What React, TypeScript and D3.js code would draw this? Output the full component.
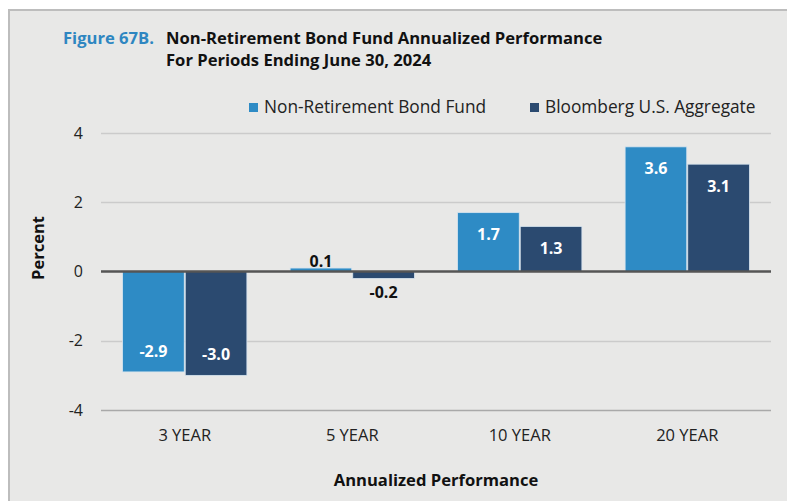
import React, { useRef, useEffect } from "react"
import * as d3 from "d3"

const periods = ["3 YEAR", "5 YEAR", "10 YEAR", "20 YEAR"]
const seriesNames = ["Non-Retirement Bond Fund", "Bloomberg U.S. Aggregate"]
const fundValues = [-2.9, 0.1, 1.7, 3.6]
const indexValues = [-3.0, -0.2, 1.3, 3.1]
const yTicks = [-4, -2, 0, 2, 4]
const colors = ["#2e8bc5", "#2b4a70"]

const W = 787
const H = 501
const font = "'Open Sans', 'Noto Sans', sans-serif"

export default function App() {
  const ref = useRef<SVGSVGElement>(null)

  useEffect(() => {
    const svg = d3.select(ref.current)
    svg.selectAll("*").remove()

    svg.attr("width", W).attr("height", H).style("font-family", font)

    // panel background + border
    svg.append("rect").attr("width", W).attr("height", H).attr("fill", "#ffffff")
    svg
      .append("rect")
      .attr("x", 9)
      .attr("y", 10)
      .attr("width", W + 10)
      .attr("height", H + 10)
      .attr("fill", "#e8e8e7")
      .attr("stroke", "#bdbdbd")
      .attr("stroke-width", 2)

    const left = 101, right = 771, top = 133, bottom = 410

    const x = d3.scaleBand().domain(periods).range([left, right]).paddingInner(0).paddingOuter(0)
    const x1 = d3.scaleBand().domain(seriesNames).range([0, x.bandwidth()]).paddingOuter(0.345).paddingInner(0.016)
    const y = d3.scaleLinear().domain([-4, 4]).range([bottom, top])

    // gridlines
    svg
      .append("g")
      .selectAll("line")
      .data(yTicks.filter(t => t !== 0))
      .join("line")
      .attr("x1", left)
      .attr("x2", right)
      .attr("y1", d => Math.round(y(d)) + 0.5)
      .attr("y2", d => Math.round(y(d)) + 0.5)
      .attr("stroke", d => (d === -4 ? "#a9a9a9" : "#cbcbcb"))
      .attr("stroke-width", 1.5)

    // y tick labels
    svg
      .append("g")
      .selectAll("text")
      .data(yTicks)
      .join("text")
      .attr("x", 83)
      .attr("y", d => y(d))
      .attr("dy", "0.35em")
      .attr("text-anchor", "end")
      .attr("font-size", 16)
      .attr("fill", "#222")
      .text(d => d)

    const rows = periods.map((p, i) => ({ period: p, vals: [fundValues[i], indexValues[i]] }))

    const groups = svg
      .append("g")
      .selectAll("g")
      .data(rows)
      .join("g")
      .attr("transform", d => `translate(${x(d.period)},0)`)

    const bars = groups
      .selectAll("g")
      .data(d => d.vals.map((v, j) => ({ name: seriesNames[j], v, j })))
      .join("g")

    bars
      .append("rect")
      .attr("x", d => x1(d.name)!)
      .attr("width", x1.bandwidth())
      .attr("y", d => y(Math.max(0, d.v)))
      .attr("height", d => Math.abs(y(d.v) - y(0)))
      .attr("fill", d => colors[d.j])
      .attr("stroke", "#d6e4ef")
      .attr("stroke-width", 0.8)

    bars
      .append("text")
      .attr("x", d => x1(d.name)! + x1.bandwidth() / 2)
      .attr("y", d => {
        const inside = Math.abs(d.v) >= 0.5
        if (inside) return d.v > 0 ? y(d.v) + 22 : y(d.v) - 21
        return d.v > 0 ? y(d.v) - 7 : y(d.v) + 14
      })
      .attr("dy", "0.35em")
      .attr("text-anchor", "middle")
      .attr("font-size", 16)
      .attr("font-weight", "bold")
      .attr("fill", d => (Math.abs(d.v) >= 0.5 ? "#ffffff" : "#111111"))
      .text(d => d.v.toFixed(1))

    // zero line
    svg
      .append("line")
      .attr("x1", left)
      .attr("x2", right)
      .attr("y1", y(0))
      .attr("y2", y(0))
      .attr("stroke", "#555555")
      .attr("stroke-width", 2.5)

    // x category labels
    svg
      .append("g")
      .selectAll("text")
      .data(periods)
      .join("text")
      .attr("x", d => x(d)! + x.bandwidth() / 2)
      .attr("y", 441)
      .attr("text-anchor", "middle")
      .attr("font-size", 16.5)
      .attr("fill", "#222")
      .text(d => d)

    // axis titles
    svg
      .append("text")
      .attr("x", (left + right) / 2)
      .attr("y", 486)
      .attr("text-anchor", "middle")
      .attr("font-size", 16.6)
      .attr("font-weight", "bold")
      .attr("fill", "#111")
      .text("Annualized Performance")

    svg
      .append("text")
      .attr("transform", "translate(44,248) rotate(-90)")
      .attr("text-anchor", "middle")
      .attr("font-size", 16.5)
      .attr("font-weight", "bold")
      .attr("fill", "#111")
      .text("Percent")

    // title
    const title = svg.append("g").attr("font-size", 16.6).attr("font-weight", "bold")
    title.append("text").attr("x", 63).attr("y", 44).attr("fill", "#2e86c1").text("Figure 67B.")
    title.append("text").attr("x", 166).attr("y", 44).attr("fill", "#111").text("Non-Retirement Bond Fund Annualized Performance")
    title.append("text").attr("x", 166).attr("y", 66).attr("fill", "#111").text("For Periods Ending June 30, 2024")

    // legend
    const legendX = [249, 530]
    const legend = svg
      .append("g")
      .selectAll("g")
      .data(seriesNames)
      .join("g")
      .attr("transform", (d, i) => `translate(${legendX[i]},103)`)
    legend.append("rect").attr("width", 9).attr("height", 9).attr("fill", (d, i) => colors[i])
    legend
      .append("text")
      .attr("x", 15)
      .attr("y", 10)
      .attr("font-size", 17.3)
      .attr("fill", "#222")
      .text(d => d)
  }, [])

  return (
    <div style={{ position: "absolute", left: 0, top: 0 }}>
      <svg ref={ref} style={{ display: "block" }}></svg>
    </div>
  )
}
